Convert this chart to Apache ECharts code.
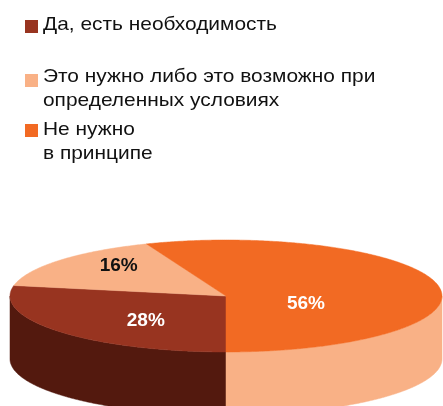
<!DOCTYPE html>
<html>
<head>
<meta charset="utf-8">
<script src="https://cdn.jsdelivr.net/npm/echarts@6/dist/echarts.min.js"></script>
<style>
  html, body { margin: 0; padding: 0; background: #ffffff; }
  #chart { width: 443px; height: 406px; }
</style>
</head>
<body>
<div id="chart"></div>
<script>
// Survey answers, in legend order
const categories = [
  'Да, есть необходимость',
  'Это нужно либо это возможно при\nопределенных условиях',
  'Не нужно\nв принципе'
];
const shares = [28, 16, 56];

// Colours: top faces, side walls, value labels
const topColors = ['#983420', '#f9b186', '#f26a23'];
const sideColors = ['#53190e', '#e89a70', '#f9b186'];
const labelColors = ['#ffffff', '#111111', '#ffffff'];

// Tilted-disc layout (pixels)
const disc = { cx: 226, cy: 296, rx: 216, ry: 56, depth: 63, start: 180 };
// Small per-slice label adjustments from the slice centroid
const labelNudge = [[17, 4], [-1, -7], [1, 12]];

// Legend layout
const legendLayout = {
  iconX: 25, iconSize: 13, textX: 43, lineHeight: 24, stretch: 1.1,
  iconTop: [20, 74, 124], textTop: [12.5, 65, 117.5]
};

const FONT = '"Liberation Sans", Arial, Helvetica, sans-serif';
const total = shares.reduce((a, b) => a + b, 0);

// angle in degrees, measured clockwise from the top of the disc
function pt(deg, dy) {
  const r = deg * Math.PI / 180;
  return [disc.cx + disc.rx * Math.sin(r), disc.cy - disc.ry * Math.cos(r) + (dy || 0)];
}
function arc(a0, a1, dy) {
  const pts = [];
  const n = Math.max(2, Math.ceil(Math.abs(a1 - a0) / 0.5));
  for (let k = 0; k <= n; k++) pts.push(pt(a0 + (a1 - a0) * k / n, dy));
  return pts;
}

function renderItem(params, api) {
  const i = params.dataIndex;
  const v = api.value(0);
  let before = 0;
  for (let k = 0; k < i; k++) before += shares[k];
  const a0 = disc.start + 360 * before / total;
  const a1 = a0 + 360 * v / total;
  const children = [];

  // visible front wall: where the disc rim faces the viewer (90..270 deg)
  [[90, 270], [450, 630]].forEach(([f0, f1]) => {
    const s = Math.max(a0, f0), e = Math.min(a1, f1);
    if (e > s) {
      const pts = arc(s, e, 0).concat(arc(e, s, disc.depth));
      children.push({
        type: 'polygon', z2: 1,
        shape: { points: pts },
        style: { fill: sideColors[i], stroke: sideColors[i], lineWidth: 0.5 }
      });
    }
  });

  // top face
  children.push({
    type: 'polygon', z2: 5,
    shape: { points: [[disc.cx, disc.cy]].concat(arc(a0, a1, 0)) },
    style: { fill: topColors[i], stroke: topColors[i], lineWidth: 0.5 }
  });

  // value label at the slice centroid
  const half = (a1 - a0) / 2 * Math.PI / 180;
  const d = 2 * Math.sin(half) / (3 * half);
  const mid = (a0 + a1) / 2 * Math.PI / 180;
  const lx = disc.cx + disc.rx * d * Math.sin(mid) + labelNudge[i][0];
  const ly = disc.cy - disc.ry * d * Math.cos(mid) + labelNudge[i][1];
  children.push({
    type: 'text', z2: 10,
    x: lx, y: ly,
    style: {
      text: v + '%', fill: labelColors[i],
      font: 'bold 19px ' + FONT,
      align: 'center', verticalAlign: 'middle'
    }
  });

  return { type: 'group', children: children };
}

// Legend drawn as boxes with multi-line captions
const legendGraphics = [];
categories.forEach((name, i) => {
  legendGraphics.push({
    type: 'rect',
    shape: { x: legendLayout.iconX, y: legendLayout.iconTop[i], width: legendLayout.iconSize, height: legendLayout.iconSize },
    style: { fill: topColors[i] }
  });
  legendGraphics.push({
    type: 'text',
    x: legendLayout.textX, y: legendLayout.textTop[i],
    scaleX: legendLayout.stretch,
    style: {
      text: name, fill: '#111111',
      font: '19px ' + FONT, lineHeight: legendLayout.lineHeight,
      align: 'left', verticalAlign: 'top'
    }
  });
});

const chart = echarts.init(document.getElementById('chart'), null, { renderer: 'canvas' });
chart.setOption({
  backgroundColor: '#ffffff',
  animation: false,
  graphic: legendGraphics,
  series: [{
    type: 'custom',
    coordinateSystem: 'none',
    renderItem: renderItem,
    data: shares.map((v, i) => ({ name: categories[i], value: [v] }))
  }]
});
</script>
</body>
</html>
